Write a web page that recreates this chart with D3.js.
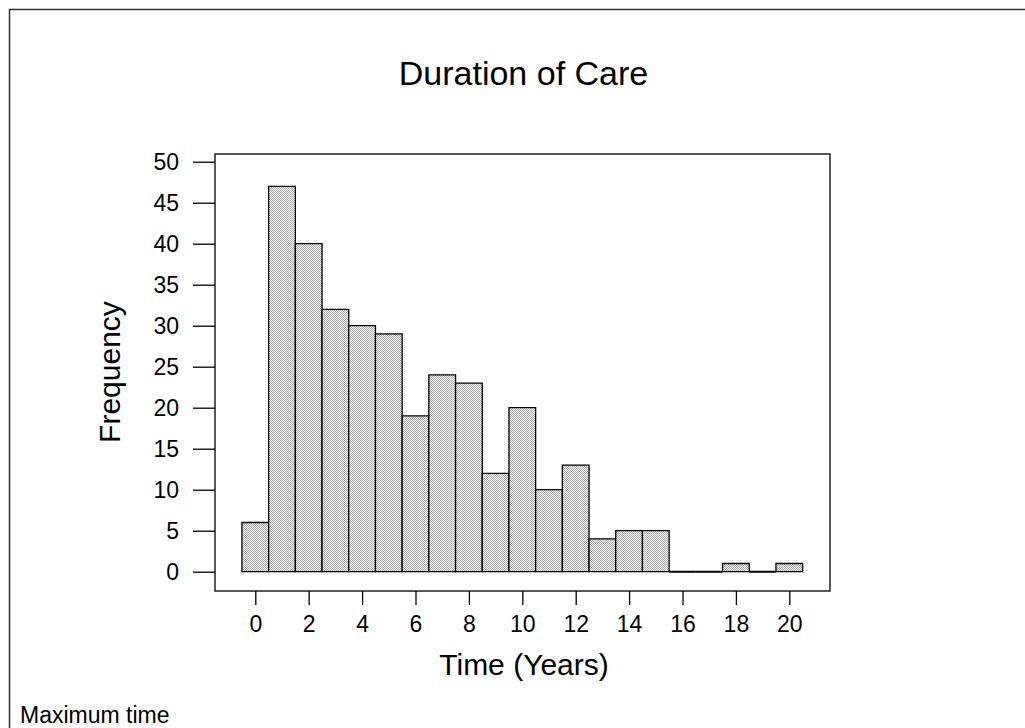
<!DOCTYPE html>
<html><head><meta charset="utf-8">
<script src="https://cdn.jsdelivr.net/npm/d3@7"></script>
<style>
html,body{margin:0;padding:0;background:#fff;}
text{font-family:"Liberation Sans",Arial,sans-serif;fill:#000;}
</style></head>
<body>
<svg id="chart" width="1025" height="728"></svg>
<script>
// ---- data ----
const binCenters = [0,1,2,3,4,5,6,7,8,9,10,11,12,13,14,15,16,17,18,19,20];
const frequencies = [6,47,40,32,30,29,19,24,23,12,20,10,13,4,5,5,0,0,1,0,1];
const xTickValues = [0,2,4,6,8,10,12,14,16,18,20];
const yTickValues = [0,5,10,15,20,25,30,35,40,45,50];
const titleText = "Duration of Care";
const xLabelText = "Time (Years)";
const yLabelText = "Frequency";
const footText = "Maximum time";

const svg = d3.select("#chart");

// pattern (fine checker hatch)
const defs = svg.append("defs");
const pat = defs.append("pattern").attr("id","hatch")
  .attr("patternUnits","userSpaceOnUse").attr("width",2).attr("height",2);
pat.append("rect").attr("width",2).attr("height",2).attr("fill","#fff");
pat.append("rect").attr("x",0).attr("y",0).attr("width",1).attr("height",1).attr("fill","#a8a8a8");
pat.append("rect").attr("x",1).attr("y",1).attr("width",1).attr("height",1).attr("fill","#a8a8a8");

// outer frame (extends past right/bottom)
svg.append("rect").attr("x",9.5).attr("y",9.5).attr("width",1100).attr("height",800)
  .attr("fill","none").attr("stroke","#333").attr("stroke-width",1.5);

// plot box
const box = {left:215, right:830, top:154, bottom:591};
const x = d3.scaleLinear().domain([0,20]).range([255.3,789.3]);
const y = d3.scaleLinear().domain([0,50]).range([571.7,161.7]);

svg.append("rect").attr("x",box.left).attr("y",box.top)
  .attr("width",box.right-box.left).attr("height",box.bottom-box.top)
  .attr("fill","none").attr("stroke","#222").attr("stroke-width",1.5);

// bars (as closed paths so that zero-count bins still show a line)
const halfW = (x(1)-x(0))/2;
svg.append("g").selectAll("path").data(binCenters).join("path")
  .attr("d",(d,i)=>{
    const x0 = x(d)-halfW, x1 = x(d)+halfW, y0 = y(0), y1 = y(frequencies[i]);
    return `M${x0},${y0}L${x0},${y1}L${x1},${y1}L${x1},${y0}Z`;
  })
  .attr("fill","url(#hatch)")
  .attr("stroke","#000").attr("stroke-width",(d,i)=>frequencies[i]===0?2:1.3);

// y axis
const yAxis = d3.axisLeft(y).tickValues(yTickValues).tickSize(22).tickPadding(14);
const gy = svg.append("g").attr("transform",`translate(${box.left},0)`).call(yAxis);
gy.select(".domain").remove();
gy.selectAll(".tick line").attr("stroke","#000").attr("stroke-width",1.3);
gy.selectAll(".tick text").attr("font-size",23).attr("font-family","Liberation Sans, Arial, sans-serif").attr("fill","#000");

// x axis
const xAxis = d3.axisBottom(x).tickValues(xTickValues).tickSize(14).tickPadding(11);
const gx = svg.append("g").attr("transform",`translate(0,${box.bottom})`).call(xAxis);
gx.select(".domain").remove();
gx.selectAll(".tick line").attr("stroke","#000").attr("stroke-width",1.3);
gx.selectAll(".tick text").attr("font-size",23).attr("font-family","Liberation Sans, Arial, sans-serif").attr("fill","#000");

// texts
svg.append("text").attr("x",523.5).attr("y",85).attr("text-anchor","middle")
  .attr("font-size",34).text(titleText);
svg.append("text").attr("x",524).attr("y",675).attr("text-anchor","middle")
  .attr("font-size",30).text(xLabelText);
svg.append("text").attr("transform","translate(120,372) rotate(-90)").attr("text-anchor","middle")
  .attr("font-size",30).text(yLabelText);
svg.append("text").attr("x",20).attr("y",723)
  .attr("font-size",23).text(footText);
</script>
</body></html>
